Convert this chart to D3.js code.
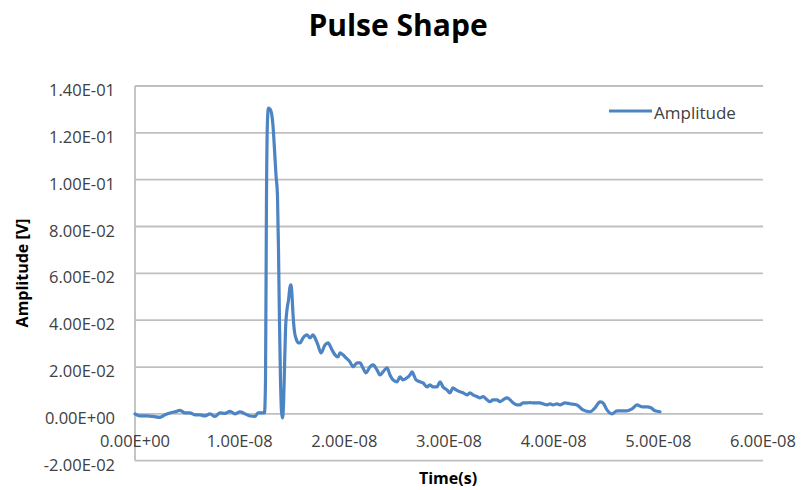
<!DOCTYPE html>
<html>
<head>
<meta charset="utf-8">
<script src="https://cdn.jsdelivr.net/npm/d3@7"></script>
<style>
  html, body { margin: 0; padding: 0; background: #fff; }
  svg { display: block; font-family: "Open Sans", Lato, sans-serif; }
</style>
</head>
<body>
<svg id="chart" width="801" height="490"></svg>
<script>
// ---- Data (time in ns, amplitude in V) ----
const timeNs = [
  0.00, 0.48, 1.15, 1.72, 2.39, 2.87, 3.34, 3.82, 4.30, 4.78, 5.25, 5.73, 6.21, 6.69, 7.17, 7.64,
  8.12, 8.60, 9.08, 9.55, 10.03, 10.51, 10.99, 11.46, 11.75, 12.13, 12.37,
  12.47, 12.56, 12.66, 12.75, 12.90, 13.04, 13.18, 13.33, 13.47, 13.61, 13.71, 13.80, 13.90, 14.00,
  14.09, 14.19, 14.28, 14.38, 14.52, 14.67, 14.81, 14.90, 15.00, 15.10, 15.24, 15.43, 15.62,
  15.76, 16.05, 16.43, 16.72, 17.01, 17.20, 17.48, 17.77, 18.15, 18.44, 18.82, 19.11, 19.39, 19.59,
  19.87, 20.16, 20.54, 20.83, 21.21, 21.50, 21.78, 22.07, 22.45, 22.74, 23.12, 23.41, 23.69, 24.08,
  24.36, 24.65, 25.03, 25.32, 25.60, 25.99, 26.27, 26.46, 26.85, 27.23, 27.52, 27.90, 28.18, 28.47,
  28.85, 29.14, 29.43, 29.81, 30.09, 30.38, 30.67, 31.05, 31.34, 31.72, 32.01, 32.29, 32.67, 32.96,
  33.25, 33.63, 33.92, 34.20, 34.59, 34.87, 35.16, 35.54, 35.83, 36.11, 36.50, 36.78, 37.07, 37.45,
  37.74, 38.02, 38.41, 38.69, 38.98, 39.36, 39.65, 39.94, 40.32, 40.61, 41.08, 41.56, 42.23, 42.80,
  43.47, 43.95, 44.43, 44.71, 45.09, 45.57, 46.05, 46.53, 47.01, 47.48, 47.96, 48.44, 48.92, 49.30,
  49.68, 50.16
];
const amplitude = [
  0.0000, -0.0009, -0.0009, -0.0011, -0.0015, -0.0004, 0.0004, 0.0009, 0.0015, 0.0004, 0.0004, -0.0004, -0.0004, -0.0009, 0.0000, -0.0011,
  0.0004, 0.0002, 0.0011, 0.0000, 0.0009, 0.0000, -0.0009, -0.0011, 0.0004, 0.0004, 0.0004,
  0.0145, 0.0913, 0.1255, 0.1306, 0.1302, 0.1285, 0.1233, 0.1127, 0.1020, 0.0935, 0.0700, 0.0401, 0.0145, 0.0009,
  -0.0017, 0.0038, 0.0188, 0.0358, 0.0444, 0.0487, 0.0542, 0.0551, 0.0508, 0.0423, 0.0350, 0.0316, 0.0303,
  0.0303, 0.0324, 0.0337, 0.0324, 0.0337, 0.0324, 0.0294, 0.0260, 0.0294, 0.0303, 0.0273, 0.0252, 0.0243, 0.0260,
  0.0252, 0.0239, 0.0222, 0.0201, 0.0218, 0.0218, 0.0196, 0.0175, 0.0201, 0.0209, 0.0188, 0.0166, 0.0179, 0.0196,
  0.0166, 0.0145, 0.0137, 0.0158, 0.0145, 0.0154, 0.0166, 0.0179, 0.0145, 0.0137, 0.0132, 0.0115, 0.0124, 0.0115,
  0.0115, 0.0137, 0.0115, 0.0102, 0.0090, 0.0111, 0.0102, 0.0094, 0.0090, 0.0081, 0.0090, 0.0081, 0.0074, 0.0068,
  0.0074, 0.0060, 0.0052, 0.0060, 0.0060, 0.0052, 0.0060, 0.0068, 0.0060, 0.0047, 0.0038, 0.0038, 0.0047, 0.0047,
  0.0048, 0.0047, 0.0047, 0.0047, 0.0043, 0.0038, 0.0043, 0.0038, 0.0043, 0.0038, 0.0047, 0.0043, 0.0038, 0.0017,
  0.0009, 0.0026, 0.0051, 0.0047, 0.0017, 0.0000, 0.0013, 0.0013, 0.0013, 0.0021, 0.0038, 0.0030, 0.0030, 0.0026,
  0.0013, 0.0009
];
const xTicks = [0, 1e-8, 2e-8, 3e-8, 4e-8, 5e-8, 6e-8];
const yTicks = [-0.02, 0, 0.02, 0.04, 0.06, 0.08, 0.10, 0.12, 0.14];
const seriesName = "Amplitude";
const chartTitle = "Pulse Shape";
const xTitle = "Time(s)";
const yTitle = "Amplitude [V]";

// ---- Layout ----
const svg = d3.select("#chart");
const plotLeft = 135, plotRight = 763, plotTop = 86, plotBottom = 460.7;

const x = d3.scaleLinear().domain([0, 6e-8]).range([plotLeft, plotRight]);
const y = d3.scaleLinear().domain([-0.02, 0.14]).range([plotBottom, plotTop]);

function sci(v) {
  const s = v.toExponential(2).split("e");
  const e = parseInt(s[1], 10);
  const sign = e < 0 ? "-" : "+";
  return s[0] + "E" + sign + String(Math.abs(e)).padStart(2, "0");
}

const labelColor = "#404040";
const lineColor = "#4d84c4";

// gridlines
svg.append("g")
  .selectAll("line")
  .data(yTicks)
  .join("line")
  .attr("x1", plotLeft).attr("x2", plotRight)
  .attr("y1", d => y(d)).attr("y2", d => y(d))
  .attr("stroke", "#bfbfbf").attr("stroke-width", 1.8);

// y axis line
svg.append("line")
  .attr("x1", plotLeft).attr("x2", plotLeft)
  .attr("y1", y(0.14)).attr("y2", y(-0.02))
  .attr("stroke", "#bfbfbf").attr("stroke-width", 1.8);

// y tick labels
svg.append("g")
  .selectAll("text")
  .data(yTicks)
  .join("text")
  .attr("x", 115)
  .attr("y", d => y(d) + 10)
  .attr("text-anchor", "end")
  .attr("font-size", 16.5)
  .attr("fill", labelColor)
  .text(d => sci(d));

// x tick labels
svg.append("g")
  .selectAll("text")
  .data(xTicks)
  .join("text")
  .attr("x", d => x(d))
  .attr("y", 447)
  .attr("text-anchor", "middle")
  .attr("font-size", 16.5)
  .attr("fill", labelColor)
  .text(d => sci(d));

// series line
const line = d3.line()
  .x((d, i) => x(timeNs[i] * 1e-9))
  .y(d => y(d))
  .curve(d3.curveMonotoneX);

svg.append("path")
  .datum(amplitude)
  .attr("d", line)
  .attr("fill", "none")
  .attr("stroke", lineColor)
  .attr("stroke-width", 3.2)
  .attr("stroke-linejoin", "round")
  .attr("stroke-linecap", "round");

// legend
svg.append("line")
  .attr("x1", 609).attr("x2", 652)
  .attr("y1", 111).attr("y2", 111)
  .attr("stroke", lineColor).attr("stroke-width", 3.2);
svg.append("text")
  .attr("x", 654).attr("y", 119)
  .attr("font-size", 17)
  .attr("fill", labelColor)
  .text(seriesName);

// title
svg.append("text")
  .attr("x", 398).attr("y", 36)
  .attr("text-anchor", "middle")
  .attr("font-size", 30)
  .attr("font-weight", "bold")
  .attr("fill", "#000")
  .text(chartTitle);

// axis titles
svg.append("text")
  .attr("x", 448).attr("y", 484)
  .attr("text-anchor", "middle")
  .attr("font-size", 16)
  .attr("font-weight", "bold")
  .attr("fill", "#000")
  .text(xTitle);

svg.append("text")
  .attr("transform", "translate(27.5,273) rotate(-90)")
  .attr("text-anchor", "middle")
  .attr("font-size", 16)
  .attr("font-weight", "bold")
  .attr("fill", "#000")
  .text(yTitle);
</script>
</body>
</html>
